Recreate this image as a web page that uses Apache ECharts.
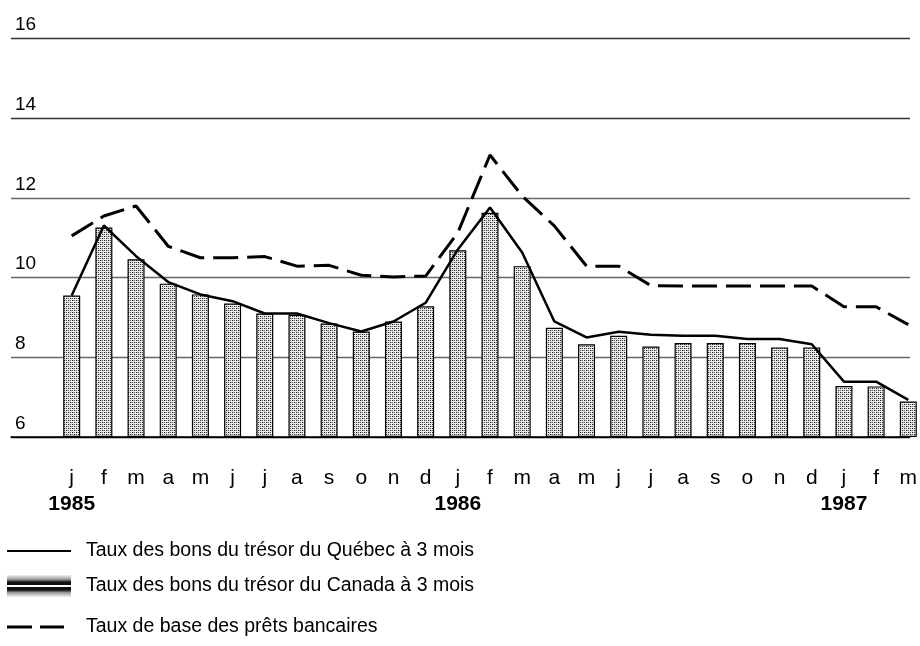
<!DOCTYPE html>
<html>
<head>
<meta charset="utf-8">
<script src="https://cdn.jsdelivr.net/npm/echarts@6.0.0/dist/echarts.min.js"></script>
<style>
  html, body { margin: 0; padding: 0; background: #fff; }
  #chart { width: 920px; height: 646px; }
</style>
</head>
<body>
<div id="chart"></div>
<script>
// periods, jan 1985 - mar 1987
var categories = ['1985-01','1985-02','1985-03','1985-04','1985-05','1985-06','1985-07','1985-08','1985-09','1985-10','1985-11','1985-12',
  '1986-01','1986-02','1986-03','1986-04','1986-05','1986-06','1986-07','1986-08','1986-09','1986-10','1986-11','1986-12',
  '1987-01','1987-02','1987-03'];
var monthLetters = ['j','f','m','a','m','j','j','a','s','o','n','d','j','f','m','a','m','j','j','a','s','o','n','d','j','f','m'];
var yearLabels = { 0: '1985', 12: '1986', 24: '1987' };
var yTicks = [6, 8, 10, 12, 14, 16];

var quebecRates = [9.55, 11.31, 10.54, 9.89, 9.58, 9.41, 9.10, 9.10, 8.86, 8.65, 8.90, 9.37,
  10.71, 11.76, 10.63, 8.90, 8.50, 8.64, 8.57, 8.54, 8.54, 8.46, 8.46, 8.33,
  7.39, 7.39, 6.93];
var canadaRates = [9.55, 11.26, 10.46, 9.85, 9.58, 9.35, 9.10, 9.07, 8.85, 8.65, 8.90, 9.28,
  10.69, 11.63, 10.29, 8.74, 8.33, 8.54, 8.27, 8.36, 8.36, 8.36, 8.25, 8.25,
  7.28, 7.27, 6.89];
var primeRates = [11.05, 11.55, 11.80, 10.79, 10.50, 10.50, 10.53, 10.29, 10.31, 10.06, 10.02, 10.04,
  11.13, 13.08, 12.05, 11.30, 10.29, 10.29, 9.80, 9.79, 9.79, 9.79, 9.79, 9.79,
  9.27, 9.27, 8.82];

var nameQc = 'Taux des bons du trésor du Québec à 3 mois';
var nameCa = 'Taux des bons du trésor du Canada à 3 mois';
var namePrime = 'Taux de base des prêts bancaires';

// stippled fill for the bars
var dots = document.createElement('canvas');
dots.width = 4; dots.height = 4;
var dctx = dots.getContext('2d');
dctx.fillStyle = '#ececec';
dctx.fillRect(0, 0, 4, 4);
dctx.fillStyle = '#1a1a1a';
dctx.fillRect(0, 0, 1, 1);
dctx.fillRect(2, 2, 1, 1);
dctx.fillStyle = '#666';
dctx.fillRect(2, 0, 1, 1);
dctx.fillRect(0, 2, 1, 1);
dctx.fillStyle = '#bbb';
dctx.fillRect(1, 0, 1, 1);
dctx.fillRect(3, 2, 1, 1);

var font = '"Liberation Sans", Arial, Helvetica, sans-serif';
var top0 = 38.7, bottom0 = 646 - 437;

function legendText(padLeft) {
  return { color: '#000', fontFamily: font, fontSize: 19.5, padding: [0, 0, 0, padLeft] };
}

var chart = echarts.init(document.getElementById('chart'), null, { renderer: 'canvas' });
chart.setOption({
  animation: false,
  backgroundColor: '#fff',
  grid: [
    { left: 11, right: 10, top: top0, bottom: bottom0, outerBoundsMode: 'none' },
    { left: 71.7, right: 11.7, top: top0, bottom: bottom0, outerBoundsMode: 'none' }
  ],
  xAxis: [
    {
      gridIndex: 0, type: 'value', min: 0, max: 1,
      axisLine: { show: true, onZero: false, lineStyle: { color: '#000', width: 1.5 } },
      axisTick: { show: false }, axisLabel: { show: false }, splitLine: { show: false }
    },
    {
      gridIndex: 1, type: 'category', data: categories, boundaryGap: false,
      axisLine: { show: false }, axisTick: { show: false }, splitLine: { show: false },
      axisLabel: {
        interval: 0,
        margin: 30,
        formatter: function (v, i) {
          var s = '{m|' + monthLetters[i] + '}';
          if (yearLabels[i]) s += '\n{y|' + yearLabels[i] + '}';
          return s;
        },
        rich: {
          m: { fontFamily: font, fontSize: 21, color: '#000', lineHeight: 22, align: 'center' },
          y: { fontFamily: font, fontSize: 21, fontWeight: 'bold', color: '#000', lineHeight: 31, align: 'center' }
        }
      }
    }
  ],
  yAxis: [
    {
      gridIndex: 0, type: 'value', min: yTicks[0], max: yTicks[yTicks.length - 1], interval: 2,
      axisLine: { show: false }, axisTick: { show: false },
      axisLabel: {
        inside: true, margin: 4, verticalAlign: 'bottom', align: 'left',
        fontFamily: font, fontSize: 19, color: '#000', lineHeight: 19, padding: [0, 0, 4, 0]
      },
      splitLine: { show: true, lineStyle: { color: ['#000', '#666', '#666', '#666', '#333', '#333'], width: 1.4 } }
    },
    {
      gridIndex: 1, type: 'value', min: yTicks[0], max: yTicks[yTicks.length - 1], interval: 2,
      startValue: yTicks[0], show: false, splitLine: { show: false }
    }
  ],
  legend: [
    {
      left: 7, top: 541, padding: 0, itemWidth: 64, itemHeight: 14,
      textStyle: legendText(10),
      data: [{ name: nameQc, icon: 'path://M0,0h64v2.2h-64z', itemStyle: { color: '#000', borderWidth: 0 } }]
    },
    {
      left: 7, top: 575, padding: 0, itemWidth: 64, itemHeight: 22,
      textStyle: legendText(10),
      data: [{
        name: nameCa, icon: 'rect',
        itemStyle: {
          borderWidth: 0,
          color: {
            type: 'linear', x: 0, y: 0, x2: 0, y2: 1,
            colorStops: [
              { offset: 0, color: '#f2f2f2' }, { offset: 0.2, color: '#9a9a9a' },
              { offset: 0.32, color: '#111' }, { offset: 0.44, color: '#111' },
              { offset: 0.47, color: '#fff' }, { offset: 0.53, color: '#fff' },
              { offset: 0.56, color: '#111' }, { offset: 0.68, color: '#111' },
              { offset: 0.8, color: '#9a9a9a' }, { offset: 1, color: '#f2f2f2' }
            ]
          }
        }
      }]
    },
    {
      left: 7, top: 617, padding: 0, itemWidth: 57, itemHeight: 14,
      textStyle: legendText(17),
      data: [{ name: namePrime, icon: 'path://M0,0h25v3h-25z M33,0h24v3h-24z', itemStyle: { color: '#000', borderWidth: 0 } }]
    }
  ],
  series: [
    {
      name: nameCa, type: 'bar', xAxisIndex: 1, yAxisIndex: 1,
      data: canadaRates, barWidth: 17, clip: false,
      itemStyle: { color: { image: dots, repeat: 'repeat' }, borderColor: '#000', borderWidth: 1.2 },
      z: 2
    },
    {
      name: nameQc, type: 'line', xAxisIndex: 1, yAxisIndex: 1,
      data: quebecRates, symbol: 'none', clip: false,
      lineStyle: { color: '#000', width: 2.5 }, itemStyle: { color: '#000' },
      z: 3
    },
    {
      name: namePrime, type: 'line', xAxisIndex: 1, yAxisIndex: 1,
      data: primeRates, symbol: 'none', clip: false,
      lineStyle: { color: '#000', width: 3, type: [25, 9] }, itemStyle: { color: '#000' },
      z: 3
    }
  ]
});
</script>
</body>
</html>
